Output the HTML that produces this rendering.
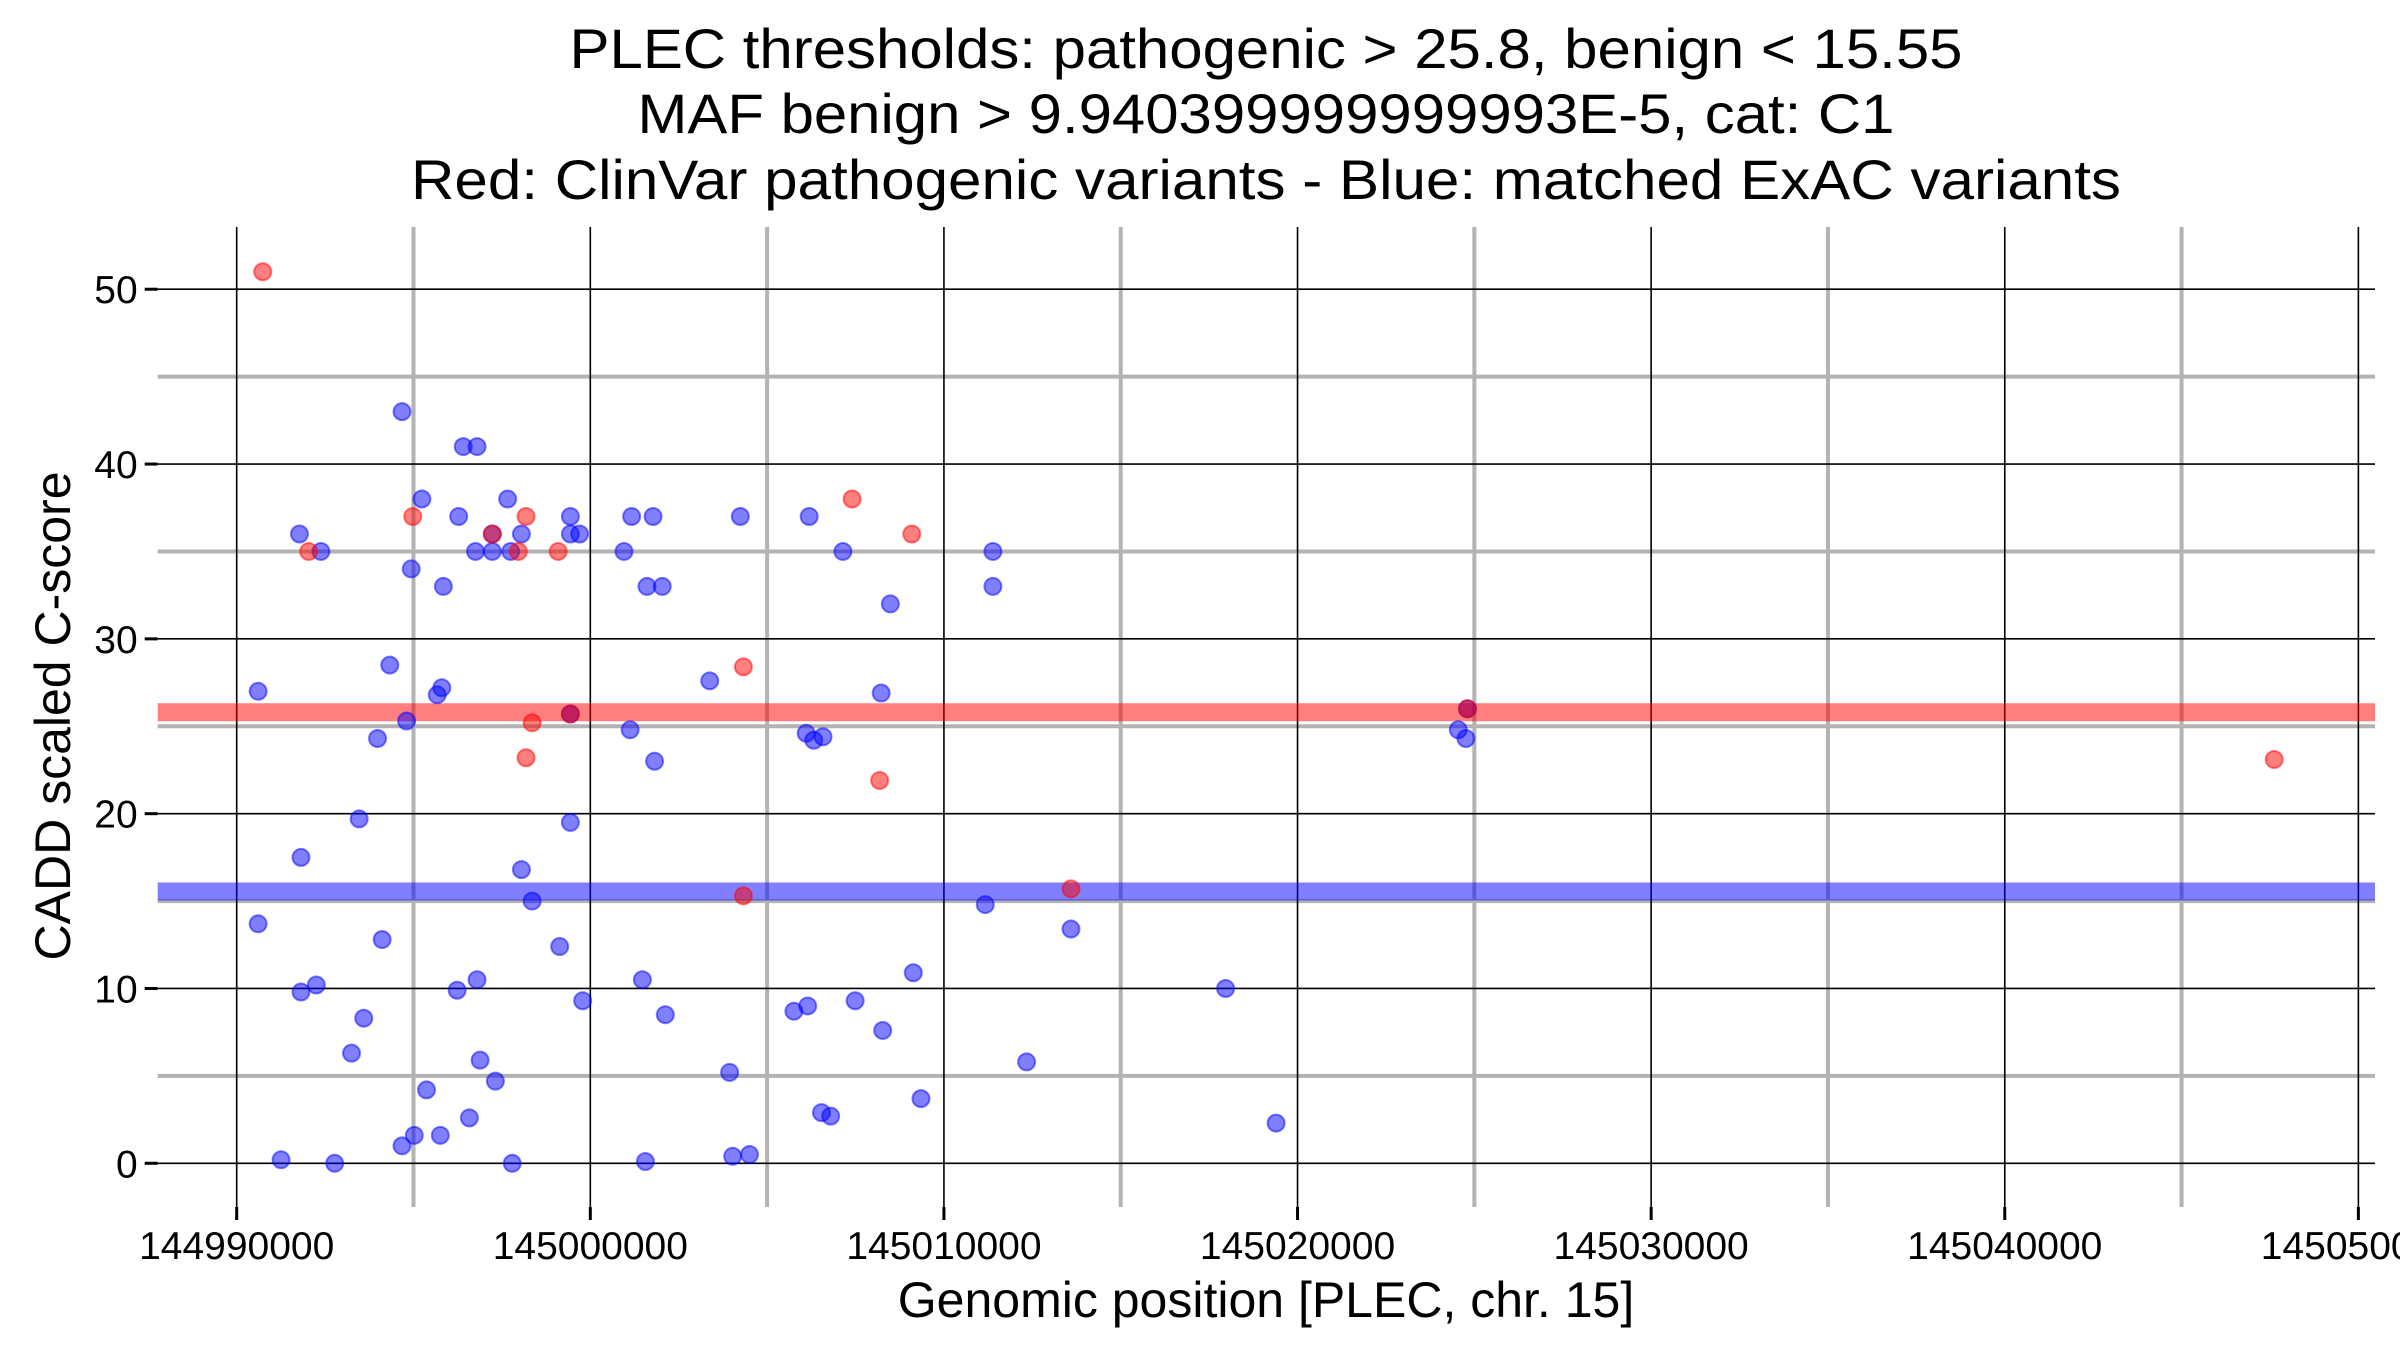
<!DOCTYPE html>
<html><head><meta charset="utf-8"><style>
html,body{margin:0;padding:0;background:#fff;}
svg{display:block;font-family:"Liberation Sans",Arial,sans-serif;}
</style></head><body>
<svg id="chart" width="2400" height="1350" viewBox="0 0 2400 1350" xmlns="http://www.w3.org/2000/svg">
<rect x="0" y="0" width="2400" height="1350" fill="#fff"/>
<g id="grid"></g>
<g id="bands"></g>
<g id="points"></g>
<g id="axes"></g>
<g font-size="56" text-anchor="middle" fill="#000">
<text x="1266" y="68" textLength="1393" lengthAdjust="spacingAndGlyphs">PLEC thresholds: pathogenic &gt; 25.8, benign &lt; 15.55</text>
<text x="1266" y="133" textLength="1257" lengthAdjust="spacingAndGlyphs">MAF benign &gt; 9.940399999999993E-5, cat: C1</text>
<text x="1266" y="199" textLength="1710" lengthAdjust="spacingAndGlyphs">Red: ClinVar pathogenic variants - Blue: matched ExAC variants</text>
</g>
<text x="1266" y="1317" font-size="50" text-anchor="middle">Genomic position [PLEC, chr. 15]</text>
<text transform="translate(70,716) rotate(-90)" font-size="50" text-anchor="middle">CADD scaled C-score</text>
</svg>
<script>
const xMajorTicks = [144990000,145000000,145010000,145020000,145030000,145040000,145050000];
const xMinorTicks = [144995000,145005000,145015000,145025000,145035000,145045000];
const yMajorTicks = [0,10,20,30,40,50];
const yMinorTicks = [5,15,25,35,45];
const pathogenicThreshold = 25.8;
const benignThreshold = 15.55;

const redX = [144990736,144992035,144994978,144997229,144997965,144998182,144999091,144998182,144998355,144999437,145004329,145004329,145007403,145008182,145009091,145013593,145024805,145047619];
const redY = [51,35,37,36,35,37,35,23.2,25.2,25.7,28.4,15.3,38,21.9,36,15.7,26,23.1];

const blueX = [144990606,144990606,144991255,144991775,144991818,144991818,144992251,144992381,144992771,144993247,144993463,144993593,144993983,144994113,144994329,144994675,144994675,144994805,144994935,144995022,144995238,144995368,144995671,144995758,144995801,144995844,144996234,144996277,144996407,144996580,144996753,144996797,144996883,144996797,144997229,144997229,144997316,144997662,144997749,144997792,144998052,144998052,144998355,144999134,144999437,144999437,144999437,144999437,144999697,144999784,145000952,145001126,145001169,145001472,145001558,145001602,145001775,145001818,145002035,145002121,145003377,145003939,145004026,145004242,145004502,145005758,145006104,145006147,145006190,145006320,145006537,145006580,145006797,145007143,145007489,145008225,145008268,145008484,145009134,145009351,145011169,145011385,145011385,145012338,145013593,145017965,145019394,145024545,145024762,145024805];
const blueY = [27,13.7,0.2,36,17.5,9.8,10.2,35,0,6.3,19.7,8.3,24.3,12.8,28.5,43,1,25.3,34,1.6,38,4.2,26.8,1.6,27.2,33,9.9,37,41,2.6,35,41,5.9,10.5,35,36,4.7,38,35,0,36,16.8,15,12.4,37,36,25.7,19.5,36,9.3,35,24.8,37,10.5,0.1,33,37,23,33,8.5,27.6,5.2,0.4,37,0.5,8.7,24.6,9.0,37,24.2,2.9,24.4,2.7,35,9.3,26.9,7.6,32,10.9,3.7,14.8,35,33,5.8,13.4,10,2.3,24.8,24.3,26];

const L=157.7, R=2375, T=227, B=1207;
const xDom=[144987766,145050470], yDom=[-2.5,53.56];
function sx(v){return L+(v-xDom[0])/(xDom[1]-xDom[0])*(R-L);}
function sy(v){return B-(v-yDom[0])/(yDom[1]-yDom[0])*(B-T);}
const NS='http://www.w3.org/2000/svg';
function mk(tag,parent,attrs){const e=document.createElementNS(NS,tag);for(const k in attrs)e.setAttribute(k,attrs[k]);parent.appendChild(e);return e;}
const grid=document.getElementById('grid'), bands=document.getElementById('bands'), pts=document.getElementById('points'), axes=document.getElementById('axes');

xMinorTicks.forEach(v=>{const e=mk('line',grid,{x1:sx(v),x2:sx(v),y1:T,y2:B,stroke:'#b3b3b3','stroke-width':4});

});
yMinorTicks.forEach(v=>{const e=mk('line',grid,{x1:L,x2:R,y1:sy(v),y2:sy(v),stroke:'#b3b3b3','stroke-width':4});

});
xMajorTicks.forEach(v=>{const e=mk('line',grid,{x1:sx(v),x2:sx(v),y1:T,y2:B,stroke:'#000','stroke-width':1.6});

});
yMajorTicks.forEach(v=>{const e=mk('line',grid,{x1:L,x2:R,y1:sy(v),y2:sy(v),stroke:'#000','stroke-width':1.6});

});

const rb=mk('line',bands,{x1:L,x2:R,y1:sy(pathogenicThreshold),y2:sy(pathogenicThreshold),stroke:'rgba(255,0,0,0.5)','stroke-width':18});


const bb=mk('line',bands,{x1:L,x2:R,y1:sy(benignThreshold),y2:sy(benignThreshold),stroke:'rgba(0,0,255,0.5)','stroke-width':18});



blueX.forEach((v,i)=>{const c=mk('circle',pts,{cx:sx(v),cy:sy(blueY[i]),r:8.5,fill:'rgba(0,0,255,0.5)',stroke:'rgba(0,0,255,0.5)','stroke-width':2});

});
redX.forEach((v,i)=>{const c=mk('circle',pts,{cx:sx(v),cy:sy(redY[i]),r:8.5,fill:'rgba(255,0,0,0.5)',stroke:'rgba(255,0,0,0.5)','stroke-width':2});

});

xMajorTicks.forEach(v=>{const t=mk('line',axes,{x1:sx(v),x2:sx(v),y1:B,y2:B+13,stroke:'#000','stroke-width':3});


const l=mk('text',axes,{x:sx(v),y:1259,'font-size':39,'text-anchor':'middle'});l.textContent=String(v);

});
yMajorTicks.forEach(v=>{const t=mk('line',axes,{x1:L-13,x2:L,y1:sy(v),y2:sy(v),stroke:'#000','stroke-width':3});


const l=mk('text',axes,{x:L-20,y:sy(v)+14,'font-size':39,'text-anchor':'end'});l.textContent=String(v);

});
</script>
</body></html>
